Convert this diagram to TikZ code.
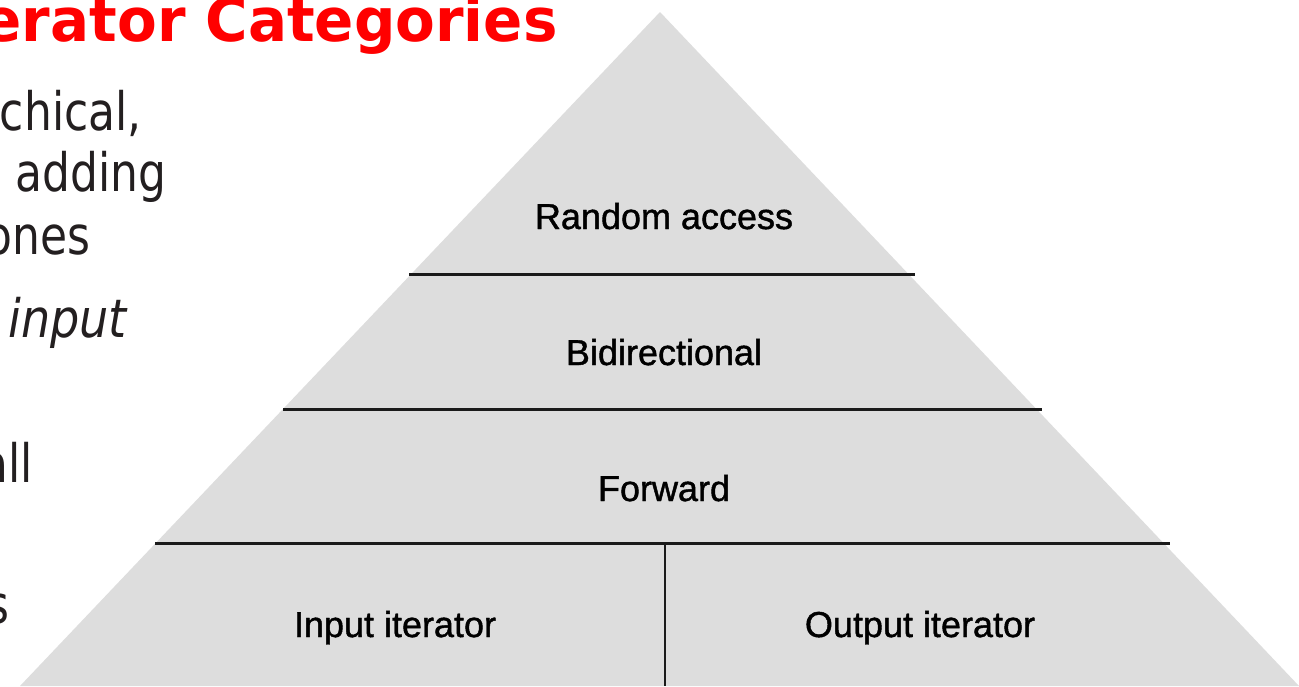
\documentclass[tikz,border=0pt]{standalone}
\usepackage{fontspec}
\usepackage{graphicx}
\setmainfont{DejaVu Sans}
\newfontfamily\tierfont[FakeBold=1.2]{Liberation Sans}
\definecolor{bodygray}{HTML}{231F20}
\definecolor{pyrgray}{HTML}{DDDDDD}
\definecolor{titlered}{HTML}{FF0000}
\definecolor{rulegray}{HTML}{1A1A1A}

\begin{document}
\begin{tikzpicture}[x=0.5pt,y=-0.5pt,
  slidetext/.style={inner sep=0pt, text=bodygray, font=\fontsize{26.5}{31}\selectfont},
  tierlabel/.style={inner sep=0pt, anchor=base, text=black, font=\tierfont\fontsize{18}{21}\selectfont},
  tierline/.style={draw=rulegray, line width=1.5pt},
  splitline/.style={draw=rulegray, line width=1pt}]
\useasboundingbox (0,0) rectangle (1299,686);

% slide title and the visible ends of the bullet lines
\node[anchor=base east, inner sep=0pt, text=titlered,
      font=\bfseries\fontsize{30}{36}\selectfont] (title) at (558,41)
      {\scalebox{0.965}[1]{erator Categories}};
\node[slidetext, anchor=base east] (line1) at (142,130) {\scalebox{0.83}[1]{chical,}};
\node[slidetext, anchor=base east] (line2) at (167,191) {\scalebox{0.83}[1]{adding}};
\node[slidetext, anchor=base east] (line3) at (91,254) {\scalebox{0.83}[1]{ones}};
\node[slidetext, anchor=base west, font=\fontsize{26.5}{31}\selectfont\itshape] (line4) at (8,337) {\scalebox{0.87}[1]{input}};
\node[slidetext, anchor=base east] (line5) at (33,482) {\scalebox{0.83}[1]{all}};
\node[slidetext, anchor=base east] (line6) at (10,623) {\scalebox{0.83}[1]{s}};

% pyramid body
\coordinate (apex) at (660,12);
\coordinate (baseL) at (20,686);
\coordinate (baseR) at (1299,686);
\fill[pyrgray] (apex) -- (baseR) -- (baseL) -- cycle;

% tier separators
\coordinate (t1l) at (409,274);  \coordinate (t1r) at (915,274);
\coordinate (t2l) at (283,409);  \coordinate (t2r) at (1042,409);
\coordinate (t3l) at (155,543);  \coordinate (t3r) at (1170,543);
\coordinate (splitTop) at (665,543);
\coordinate (splitBot) at (665,686);
\draw[tierline] (t1l) -- (t1r);
\draw[tierline] (t2l) -- (t2r);
\draw[tierline] (t3l) -- (t3r);
\draw[splitline] (splitTop) -- (splitBot);

% tier labels
\node[tierlabel] (random) at (664,229) {Random access};
\node[tierlabel] (bidir) at (664,365) {Bidirectional};
\node[tierlabel] (forward) at (664,501) {Forward};
\node[tierlabel] (input) at (395,637) {Input iterator};
\node[tierlabel] (output) at (920,637) {Output iterator};
\end{tikzpicture}
\end{document}
